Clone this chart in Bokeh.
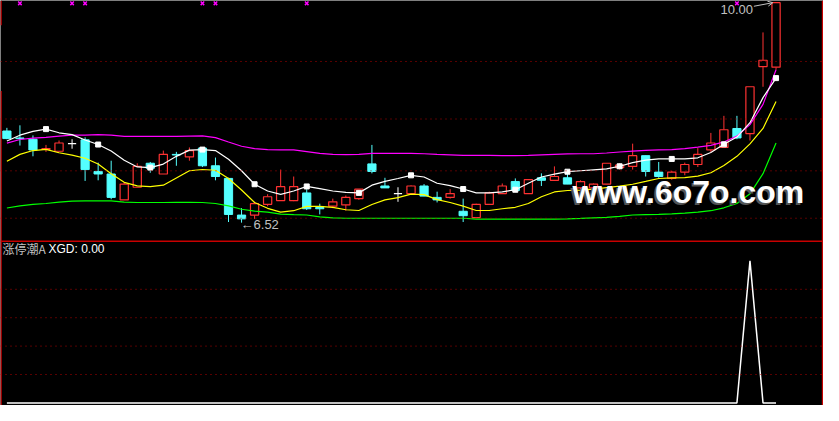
from bokeh.plotting import figure
from bokeh.models import Range1d, Span, Label, Arrow, OpenHead
from bokeh.embed import file_html
from bokeh.resources import INLINE
from bokeh.core.properties import value

# ---------------- data ----------------
opens = [7.97, 7.86, 7.84, 7.68, 7.65, 7.77, 7.83, 7.33, 7.29, 6.88,
         7.08, 7.46, 7.29, 7.60, 7.56, 7.70, 7.42, 7.22, 6.64, 6.64,
         6.81, 6.87, 6.87, 6.99, 6.76, 6.78, 6.80, 6.90, 7.45, 7.10,
         6.98, 6.98, 7.10, 6.92, 6.92, 6.70, 6.60, 6.81, 6.98, 7.17,
         6.98, 7.23, 7.19, 7.23, 7.07, 7.07, 7.13, 7.39, 7.41, 7.58,
         7.32, 7.22, 7.32, 7.44, 7.67, 7.71, 8.01, 7.93, 8.99, 8.98]
highs = [8.02, 8.06, 7.90, 7.75, 7.82, 7.84, 7.87, 7.47, 7.50, 7.16,
         7.46, 7.48, 7.66, 7.64, 7.71, 7.71, 7.55, 7.23, 6.75, 6.85,
         6.97, 7.36, 7.25, 7.05, 6.82, 6.90, 6.95, 7.05, 7.75, 7.23,
         7.08, 7.11, 7.13, 7.01, 7.05, 6.90, 6.82, 7.01, 7.14, 7.22,
         7.20, 7.30, 7.41, 7.32, 7.19, 7.14, 7.46, 7.46, 7.77, 7.58,
         7.48, 7.34, 7.47, 7.70, 7.94, 8.21, 8.21, 8.67, 9.53, 10.00]
lows = [7.84, 7.74, 7.57, 7.64, 7.64, 7.69, 7.18, 7.19, 6.89, 6.88,
        7.08, 7.31, 7.29, 7.42, 7.50, 7.40, 7.19, 6.53, 6.52, 6.58,
        6.78, 6.87, 6.86, 6.72, 6.65, 6.75, 6.71, 6.88, 7.30, 7.07,
        6.85, 6.98, 6.94, 6.84, 6.90, 6.53, 6.59, 6.81, 6.98, 7.03,
        6.98, 7.10, 7.19, 7.13, 7.05, 7.05, 7.13, 7.36, 7.36, 7.25,
        7.23, 7.20, 7.27, 7.40, 7.63, 7.71, 7.84, 7.82, 8.67, 8.94]
closes = [7.85, 7.85, 7.67, 7.69, 7.78, 7.77, 7.36, 7.29, 6.92, 7.13,
          7.41, 7.38, 7.60, 7.59, 7.66, 7.42, 7.25, 6.65, 6.58, 6.82,
          6.93, 7.09, 7.09, 6.74, 6.74, 6.85, 6.92, 7.05, 7.33, 7.07,
          6.98, 7.10, 6.94, 6.88, 6.98, 6.63, 6.81, 6.99, 7.10, 7.03,
          7.20, 7.19, 7.25, 7.13, 7.17, 7.13, 7.46, 7.43, 7.58, 7.33,
          7.25, 7.32, 7.44, 7.60, 7.78, 7.99, 7.86, 8.67, 9.09, 10.00]
ma_white = [7.813, 7.904, 7.965, 8.000, 7.942, 7.912, 7.828, 7.756, 7.653, 7.508,
            7.402, 7.391, 7.447, 7.569, 7.668, 7.676, 7.661, 7.524, 7.341, 7.128,
            7.021, 6.968, 7.021, 7.093, 7.059, 7.021, 6.998, 6.991, 7.113, 7.173,
            7.219, 7.269, 7.242, 7.143, 7.105, 7.052, 6.991, 6.991, 7.006, 7.041,
            7.143, 7.242, 7.288, 7.326, 7.341, 7.356, 7.371, 7.412, 7.470, 7.508,
            7.528, 7.528, 7.528, 7.546, 7.630, 7.759, 7.874, 8.102, 8.498, 8.807]
ma_yellow = [7.493, 7.600, 7.661, 7.680, 7.626, 7.589, 7.539, 7.447, 7.295, 7.158,
             7.102, 7.090, 7.113, 7.227, 7.341, 7.361, 7.349, 7.219, 7.036, 6.839,
             6.747, 6.686, 6.709, 6.778, 6.778, 6.763, 6.724, 6.712, 6.808, 6.880,
             6.915, 6.971, 6.963, 6.884, 6.839, 6.782, 6.712, 6.712, 6.740, 6.763,
             6.823, 6.930, 7.006, 7.029, 7.036, 7.052, 7.075, 7.097, 7.128, 7.173,
             7.219, 7.227, 7.234, 7.257, 7.310, 7.425, 7.569, 7.767, 8.011, 8.437]
band_upper = [7.778, 7.836, 7.858, 7.869, 7.889, 7.904, 7.904, 7.912, 7.904, 7.884,
              7.884, 7.884, 7.884, 7.884, 7.889, 7.893, 7.866, 7.797, 7.729, 7.691,
              7.676, 7.671, 7.671, 7.645, 7.615, 7.600, 7.595, 7.600, 7.615, 7.615,
              7.615, 7.615, 7.610, 7.600, 7.592, 7.584, 7.584, 7.584, 7.580, 7.580,
              7.584, 7.592, 7.600, 7.607, 7.610, 7.610, 7.622, 7.638, 7.653, 7.665,
              7.671, 7.676, 7.691, 7.714, 7.744, 7.797, 7.889, 8.071, 8.391, 8.939]
band_lower = [6.752, 6.785, 6.808, 6.823, 6.846, 6.861, 6.864, 6.864, 6.864, 6.846,
              6.839, 6.839, 6.839, 6.842, 6.843, 6.839, 6.823, 6.785, 6.732, 6.702,
              6.686, 6.656, 6.648, 6.641, 6.610, 6.595, 6.590, 6.590, 6.590, 6.590,
              6.590, 6.590, 6.590, 6.590, 6.590, 6.590, 6.575, 6.575, 6.575, 6.575,
              6.575, 6.575, 6.575, 6.580, 6.587, 6.595, 6.603, 6.618, 6.641, 6.648,
              6.651, 6.659, 6.671, 6.686, 6.709, 6.755, 6.823, 6.976, 7.295, 7.782]
xgd = [0, 0, 0, 0, 0, 0, 0, 0, 0, 0,
       0, 0, 0, 0, 0, 0, 0, 0, 0, 0,
       0, 0, 0, 0, 0, 0, 0, 0, 0, 0,
       0, 0, 0, 0, 0, 0, 0, 0, 0, 0,
       0, 0, 0, 0, 0, 0, 0, 0, 0, 0,
       0, 0, 0, 0, 0, 0, 0, 100, 0, 0]
ma_marker_idx = [3, 7, 11, 15, 19, 23, 27, 31, 35, 39, 43, 47, 51, 55, 59]
signal_idx = [1, 5, 6, 15, 16, 23, 56]
signal_level = 9.99
grid_upper = [9.07, 8.16, 7.34, 6.59]
grid_lower = [20, 40, 60, 80]
panel_split = 6.225
indicator_name = "涨停潮A"

# ---------------- styling ----------------
W, H = 823, 405
RED = "#ff3232"
CYAN = "#54ffff"
GRID = "#b00000"
FRAME = "#c80000"
LABEL = "#c0c0c0"
BW = 0.63

n = len(closes)
idx = list(range(n))

p = figure(width=W, height=H, output_backend="svg", toolbar_location=None,
           x_range=Range1d(-0.49, 62.64), y_range=Range1d(3.627, 10.035),
           x_axis_location=None, y_axis_location=None, min_border=0,
           background_fill_color="black", border_fill_color="black",
           outline_line_color=None)
p.xgrid.visible = False
p.ygrid.visible = False
p.extra_y_ranges = {"ind": Range1d(-1.83, 283.4)}

# grids
for g in grid_upper:
    p.add_layout(Span(location=g, dimension="width", line_color=GRID,
                      line_width=1, line_dash="1 4"))
for g in grid_lower:
    p.add_layout(Span(location=g, dimension="width", line_color=GRID,
                      line_width=1, line_dash="1 4", y_range_name="ind"))

# frame lines
p.add_layout(Span(location=panel_split, dimension="width", line_color=FRAME, line_width=1.5))
p.add_layout(Span(location=62.57, dimension="height", line_color=FRAME, line_width=1.5))
p.segment(x0=[-0.45, -0.45], y0=[10.035, 8.604], x1=[-0.45, -0.45], y1=[9.644, 3.627],
          line_color=FRAME, line_width=1.5)

# candles
up = [i for i in idx if closes[i] > opens[i]]
dn = [i for i in idx if closes[i] < opens[i]]
eq = [i for i in idx if closes[i] == opens[i]]

# red (up) wicks: outside the hollow body only
ux0, uy0, uy1 = [], [], []
for i in up:
    if highs[i] > closes[i]:
        ux0.append(i); uy0.append(highs[i]); uy1.append(closes[i])
    if lows[i] < opens[i]:
        ux0.append(i); uy0.append(opens[i]); uy1.append(lows[i])
p.segment(x0=ux0, y0=uy0, x1=ux0, y1=uy1, line_color=RED, line_width=1)
p.vbar(x=up, width=BW, top=[closes[i] for i in up], bottom=[opens[i] for i in up],
       fill_color="black", line_color=RED, line_width=1.2)

# cyan (down)
p.segment(x0=dn, y0=[highs[i] for i in dn], x1=dn, y1=[lows[i] for i in dn],
          line_color=CYAN, line_width=1)
p.vbar(x=dn, width=BW, top=[opens[i] for i in dn], bottom=[closes[i] for i in dn],
       fill_color=CYAN, line_color=CYAN, line_width=1)

# white crosses (open == close)
p.segment(x0=eq, y0=[highs[i] for i in eq], x1=eq, y1=[lows[i] for i in eq],
          line_color="white", line_width=1)
p.segment(x0=[i - BW / 2 for i in eq], y0=[opens[i] for i in eq],
          x1=[i + BW / 2 for i in eq], y1=[opens[i] for i in eq],
          line_color="white", line_width=1.2)

# lines
p.line(idx, band_lower, line_color="#00ff00", line_width=1.2)
p.line(idx, band_upper, line_color="#ff00ff", line_width=1.2)
p.line(idx, ma_yellow, line_color="#ffff00", line_width=1.2)
p.line(idx, ma_white, line_color="white", line_width=1.2)
p.scatter(x=ma_marker_idx, y=[ma_white[i] for i in ma_marker_idx], marker="square",
          size=5, fill_color="white", line_color="white")

# signal marks
p.scatter(x=signal_idx, y=[signal_level] * len(signal_idx), marker="x", size=5,
          line_color="#ff00ff", line_width=1.5)

# high / low annotations
i_hi = max(idx, key=lambda i: highs[i])
i_lo = min(idx, key=lambda i: lows[i])
p.text(x=[i_hi], y=[highs[i_hi]], text=[f"{highs[i_hi]:.2f}"],
       text_font=value("Liberation Sans"), text_font_size="13px", text_color=LABEL,
       text_align="right", text_baseline="middle", x_offset=-23, y_offset=7)
p.add_layout(Arrow(x_start=i_hi - 1.7, y_start=highs[i_hi] - 0.056,
                   x_end=i_hi - 0.25, y_end=highs[i_hi],
                   line_color=LABEL, line_width=1,
                   end=OpenHead(size=5, line_color=LABEL, line_width=1)))
p.text(x=[i_lo], y=[lows[i_lo]], text=[f"\u2190{lows[i_lo]:.2f}"],
       text_font=value("Liberation Sans"), text_font_size="13px", text_color=LABEL,
       text_align="left", text_baseline="middle", x_offset=-1, y_offset=2)

# indicator panel
p.line(idx, xgd, y_range_name="ind", line_color="white", line_width=1.5)
p.add_layout(Label(x=2, y=157, x_units="screen", y_units="screen", text=indicator_name,
                   text_font="Noto Sans CJK SC", text_font_size="12px",
                   text_color=LABEL, text_baseline="middle"))
p.add_layout(Label(x=48, y=157, x_units="screen", y_units="screen",
                   text=f"XGD: {xgd[-1]:.2f}",
                   text_font="Liberation Sans", text_font_size="12px",
                   text_color="white", text_baseline="middle"))

# watermark
p.add_layout(Label(x=570, y=211.5, x_units="screen", y_units="screen", text="www.6o7o.com",
                   text_font="Liberation Sans", text_font_style="bold",
                   text_font_size="32px", text_color="#555555",
                   text_baseline="alphabetic"))
p.add_layout(Label(x=572, y=213.5, x_units="screen", y_units="screen", text="www.6o7o.com",
                   text_font="Liberation Sans", text_font_style="bold",
                   text_font_size="32px", text_color="white",
                   text_baseline="alphabetic"))

open("out.html", "w").write(file_html(p, INLINE))
